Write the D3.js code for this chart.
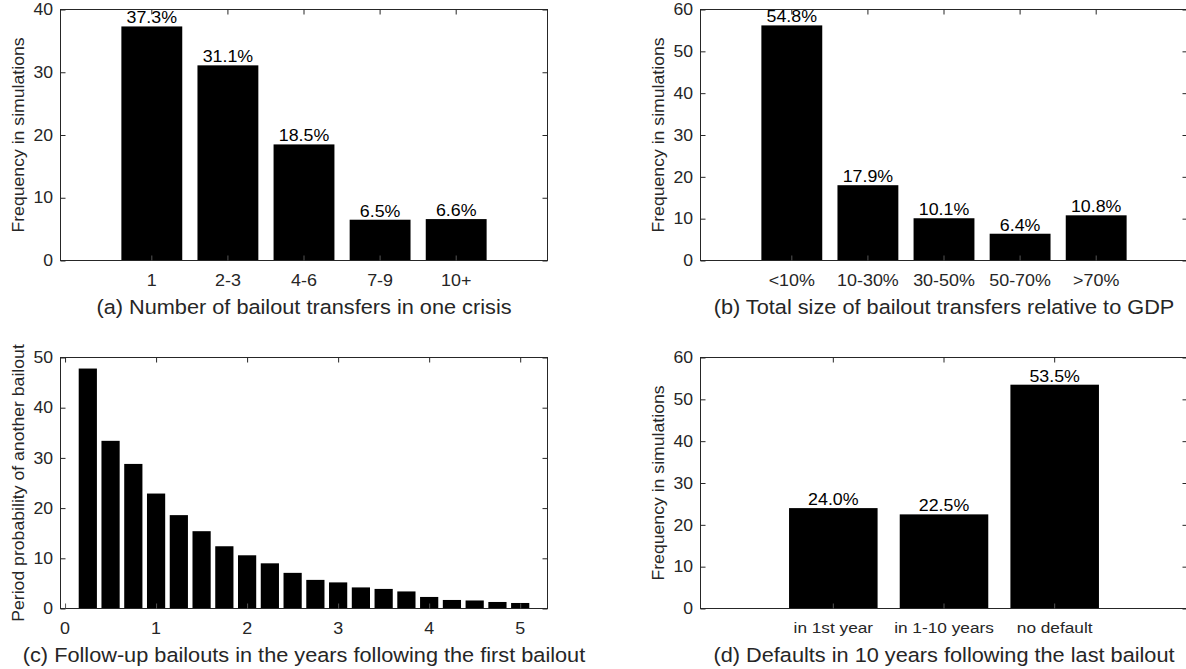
<!DOCTYPE html>
<html><head><meta charset="utf-8">
<script src="https://cdn.jsdelivr.net/npm/d3@7"></script>
<style>body{margin:0;background:#fff}svg{display:block}</style>
</head><body>
<svg id="fig" width="1186" height="669"></svg>
<script>
// ---- data ----
const catsA = ["1", "2-3", "4-6", "7-9", "10+"];
const valsA = [37.3, 31.1, 18.5, 6.5, 6.6];
const labelsA = ["37.3%", "31.1%", "18.5%", "6.5%", "6.6%"];
const yTicksA = [0, 10, 20, 30, 40];

const catsB = ["<10%", "10-30%", "30-50%", "50-70%", ">70%"];
const valsB = [56.2, 18.0, 10.1, 6.4, 10.8];
const labelsB = ["54.8%", "17.9%", "10.1%", "6.4%", "10.8%"];
const yTicksB = [0, 10, 20, 30, 40, 50, 60];

const yearsC = [0.25, 0.5, 0.75, 1.0, 1.25, 1.5, 1.75, 2.0, 2.25, 2.5, 2.75, 3.0, 3.25, 3.5, 3.75, 4.0, 4.25, 4.5, 4.75, 5.0];
const valsC = [47.8, 33.4, 28.8, 22.9, 18.6, 15.4, 12.4, 10.6, 9.0, 7.1, 5.7, 5.2, 4.2, 3.9, 3.4, 2.3, 1.7, 1.6, 1.3, 1.1];
const xTicksC = [0, 1, 2, 3, 4, 5];
const yTicksC = [0, 10, 20, 30, 40, 50];

const catsD = ["in 1st year", "in 1-10 years", "no default"];
const valsD = [24.0, 22.5, 53.5];
const labelsD = ["24.0%", "22.5%", "53.5%"];
const yTicksD = [0, 10, 20, 30, 40, 50, 60];

const captions = [
  "(a) Number of bailout transfers in one crisis",
  "(b) Total size of bailout transfers relative to GDP",
  "(c) Follow-up bailouts in the years following the first bailout",
  "(d) Defaults in 10 years following the last bailout"
];
const yLabels = [
  "Frequency in simulations",
  "Frequency in simulations",
  "Period probability of another bailout",
  "Frequency in simulations"
];

// ---- layout ----
const svg = d3.select("#fig");
const AX = "#262626";
const FONT = "'Liberation Sans', Arial, sans-serif";
const W = 487, H = 251;
const origins = [[60.5, 9.5], [700.5, 9.5], [60.5, 357.5], [700.5, 357.5]];

function txt(g, x, y, s, o) {
  return g.append("text")
    .attr("transform", `translate(${x},${y})` + (o.rot ? ` rotate(${o.rot})` : "") + ` scale(${o.sx || 1},1)`)
    .attr("text-anchor", o.anchor || "middle")
    .attr("font-family", FONT)
    .attr("font-size", o.size)
    .attr("fill", o.fill || AX)
    .text(s);
}

function panel(i, x, y, xTickVals, xTickLabels, yTicks, barsFn, xLabelSize, xLabelSx, xLabelDy) {
  const [ox, oy] = origins[i];
  const g = svg.append("g").attr("transform", `translate(${ox},${oy})`);
  barsFn(g);
  g.append("rect").attr("x", 0).attr("y", 0).attr("width", W).attr("height", H)
    .attr("fill", "none").attr("stroke", AX).attr("stroke-width", 1);
  const mk = (ax, tr, col) => {
    const a = g.append("g").attr("transform", tr).call(ax);
    a.select(".domain").remove();
    a.selectAll("line").attr("stroke", col || AX);
    a.selectAll("text").remove();
  };
  mk(d3.axisLeft(y).tickValues(yTicks).tickSize(-5), "translate(0,0)");
  mk(d3.axisRight(y).tickValues(yTicks).tickSize(-5), `translate(${W},0)`);
  mk(d3.axisBottom(x).tickValues(xTickVals).tickSize(-5), `translate(0,${H})`, "#555");
  mk(d3.axisTop(x).tickValues(xTickVals).tickSize(-5), "translate(0,0)");
  yTicks.forEach(v => txt(g, -7.5, y(v) + 5.7, String(v), {size: 16, anchor: "end", sx: 1.1}));
  xTickVals.forEach((v, k) => {
    const cx = x(v) + (x.bandwidth ? x.bandwidth() / 2 : 0);
    txt(g, cx, H + xLabelDy, xTickLabels[k], {size: xLabelSize, sx: xLabelSx});
  });
  txt(g, W / 2, H + 53, captions[i], {size: 20.5, sx: 1.06});
  txt(g, -37, H / 2, yLabels[i], {size: 16.5, sx: 1.07, rot: -90});
  return g;
}

function catPanel(i, cats, vals, labels, yMax, yTicks, xLabelSize, xLabelSx, xLabelDy) {
  const x = d3.scaleBand().domain(cats).range([0, W]).paddingInner(0.2).paddingOuter(0.8);
  const y = d3.scaleLinear().domain([0, yMax]).range([H, 0]);
  panel(i, x, y, cats, cats, yTicks, g => {
    g.selectAll("rect.bar").data(cats).join("rect").attr("class", "bar")
      .attr("x", c => x(c)).attr("width", x.bandwidth())
      .attr("y", (c, k) => y(vals[k])).attr("height", (c, k) => H - y(vals[k]))
      .attr("fill", "#000");
    cats.forEach((c, k) => txt(g, x(c) + x.bandwidth() / 2, y(vals[k]) - 3, labels[k],
      {size: 16.5, sx: 1.08, fill: "#000"}));
  }, xLabelSize, xLabelSx, xLabelDy);
}

catPanel(0, catsA, valsA, labelsA, 40, yTicksA, 16, 1.12, 25.5);
catPanel(1, catsB, valsB, labelsB, 60, yTicksB, 16, 1.12, 25.5);
catPanel(3, catsD, valsD, labelsD, 60, yTicksD, 15, 1.15, 24.5);

{
  const x = d3.scaleLinear().domain([-0.05, 5.3]).range([0, W]);
  const y = d3.scaleLinear().domain([0, 50]).range([H, 0]);
  const bw = x(0.2) - x(0);
  panel(2, x, y, xTicksC, xTicksC.map(String), yTicksC, g => {
    g.selectAll("rect.bar").data(yearsC).join("rect").attr("class", "bar")
      .attr("x", d => x(d) - bw / 2).attr("width", bw)
      .attr("y", (d, k) => y(valsC[k])).attr("height", (d, k) => H - y(valsC[k]))
      .attr("fill", "#000");
  }, 16, 1.12, 25.5);
}
</script>
</body></html>
